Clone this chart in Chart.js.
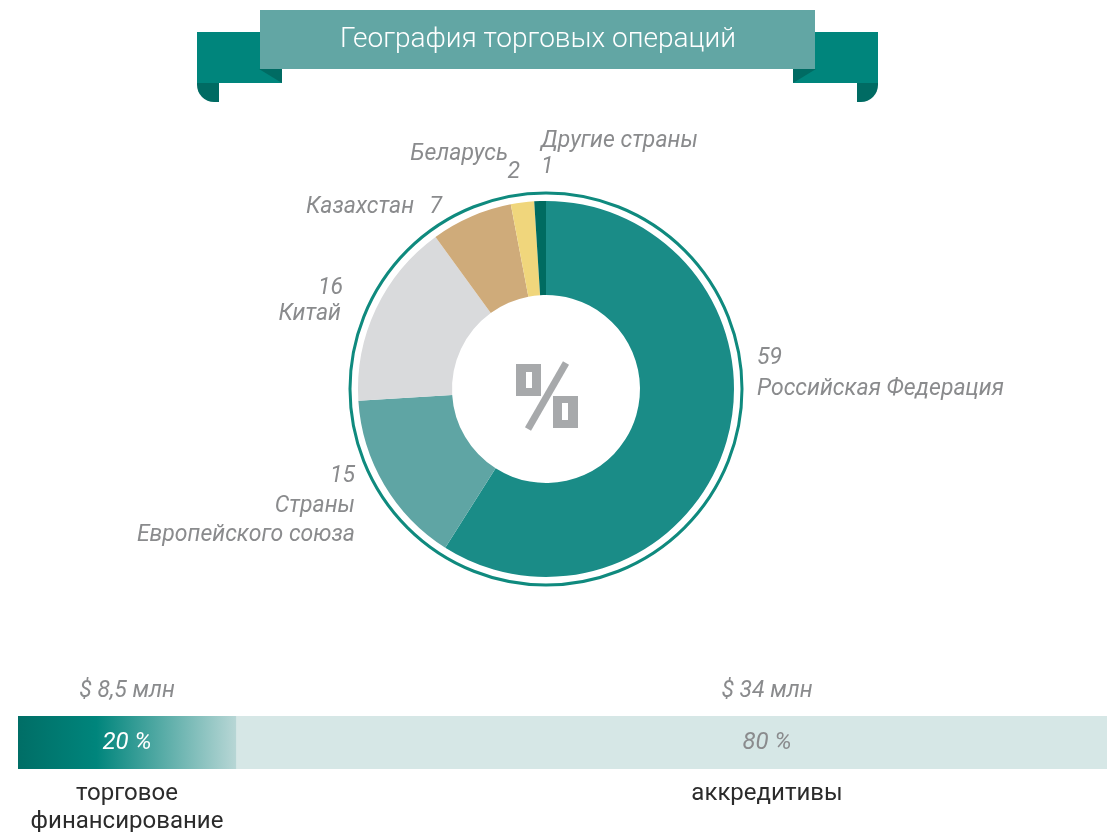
<!DOCTYPE html>
<html lang="ru">
<head>
<meta charset="utf-8">
<title>География торговых операций</title>
<script src="https://cdn.jsdelivr.net/npm/chart.js@4.4.1/dist/chart.umd.min.js"></script>
<style>
  html, body { margin: 0; padding: 0; background: #fff; }
  #wrap { position: relative; width: 1107px; height: 832px; overflow: hidden; }
  #geoBox { position: absolute; left: 0; top: 0; width: 1107px; height: 650px; }
  #finBox { position: absolute; left: 0; top: 650px; width: 1107px; height: 182px; }
</style>
</head>
<body>
<div id="wrap">
  <div id="geoBox"><canvas id="geoChart"></canvas></div>
  <div id="finBox"><canvas id="finChart"></canvas></div>
</div>
<script>
// --- data ---
const title = 'География торговых операций';
const countries = ['Российская Федерация', ['Страны', 'Европейского союза'], 'Китай', 'Казахстан', 'Беларусь', 'Другие страны'];
const shares = [59, 15, 16, 7, 2, 1];
const countryColors = ['#1a8c87', '#5fa5a4', '#d9dadc', '#cfab7a', '#f0d67c', '#006b60'];

const finTypes = [['торговое', 'финансирование'], ['аккредитивы']];
const finShares = [20, 80];
const finAmounts = ['$ 8,5 млн', '$ 34 млн'];

const grayText = '#8a8b8d';
const labelFont = 'italic 400 23px Roboto, "Open Sans", sans-serif';

// where each country label sits, relative to doughnut centre
// parts: 'v' = value, 0/1 = line of name
const labelLayout = [
  [{p: 'v', dx: 211, dy: -31, a: 'left'}, {p: 0, dx: 211, dy: 0, a: 'left'}],
  [{p: 'v', dx: -191, dy: 87, a: 'right'}, {p: 0, dx: -191, dy: 117, a: 'right'}, {p: 1, dx: -191, dy: 146, a: 'right'}],
  [{p: 'v', dx: -203, dy: -101, a: 'right'}, {p: 0, dx: -205, dy: -75, a: 'right'}],
  [{p: 0, dx: -132, dy: -182, a: 'right'}, {p: 'v', dx: -104, dy: -182, a: 'right'}],
  [{p: 0, dx: -38, dy: -235, a: 'right'}, {p: 'v', dx: -26, dy: -217, a: 'right'}],
  [{p: 0, dx: -5, dy: -248, a: 'left'}, {p: 'v', dx: -5, dy: -222, a: 'left'}]
];

function drawBanner(ctx) {
  const side = (flapX, flapW, foldPts, curlX, curlW, leftCurl) => {
    ctx.fillStyle = '#00857c';
    ctx.fillRect(flapX, 32, flapW, 51);
    ctx.fillStyle = '#006b63';
    ctx.beginPath();
    ctx.moveTo(foldPts[0][0], foldPts[0][1]);
    ctx.lineTo(foldPts[1][0], foldPts[1][1]);
    ctx.lineTo(foldPts[2][0], foldPts[2][1]);
    ctx.closePath();
    ctx.fill();
    ctx.beginPath();
    if (leftCurl) ctx.roundRect(curlX, 83, curlW, 19, [0, 0, 0, 17]);
    else ctx.roundRect(curlX, 83, curlW, 19, [0, 0, 17, 0]);
    ctx.fill();
  };
  side(197, 85, [[259, 69], [282, 69], [282, 83]], 197, 22, true);
  side(793, 85, [[793, 69], [816, 69], [793, 83]], 857, 21, false);
  ctx.fillStyle = '#62a6a4';
  ctx.fillRect(260, 10, 555, 59);
  ctx.fillStyle = '#ffffff';
  ctx.font = '300 28px Roboto, "Open Sans", sans-serif';
  ctx.textAlign = 'center';
  ctx.textBaseline = 'middle';
  ctx.fillText(title, 538, 40);
}

function drawPercentIcon(ctx, cx, cy) {
  ctx.fillStyle = '#a7a9ab';
  ctx.fillRect(cx - 30, cy - 25, 25, 32);
  ctx.fillRect(cx + 7, cy + 7, 25, 32);
  ctx.fillStyle = '#ffffff';
  ctx.fillRect(cx - 20, cy - 17, 6, 16);
  ctx.fillRect(cx + 16, cy + 14, 6, 17);
  ctx.strokeStyle = '#a7a9ab';
  ctx.lineWidth = 7;
  ctx.beginPath();
  ctx.moveTo(cx + 20, cy - 26);
  ctx.lineTo(cx - 18, cy + 40);
  ctx.stroke();
}

const geoDecor = {
  id: 'geoDecor',
  beforeDraw(chart) {
    drawBanner(chart.ctx);
  },
  afterDraw(chart) {
    const ctx = chart.ctx;
    const arc = chart.getDatasetMeta(0).data[0];
    const cx = arc.x, cy = arc.y;
    // thin outer ring
    ctx.save();
    ctx.strokeStyle = '#0f8a7e';
    ctx.lineWidth = 3;
    ctx.beginPath();
    ctx.arc(cx, cy, arc.outerRadius + 8, 0, Math.PI * 2);
    ctx.stroke();

    drawPercentIcon(ctx, cx, cy);

    ctx.font = labelFont;
    ctx.fillStyle = grayText;
    ctx.textBaseline = 'middle';
    labelLayout.forEach((parts, i) => {
      const name = [].concat(countries[i]);
      parts.forEach(pt => {
        const txt = pt.p === 'v' ? String(shares[i]) : name[pt.p];
        ctx.textAlign = pt.a;
        ctx.fillText(txt, cx + pt.dx, cy + pt.dy);
      });
    });
    ctx.restore();
  }
};

new Chart(document.getElementById('geoChart'), {
  type: 'doughnut',
  data: {
    labels: countries,
    datasets: [{
      data: shares,
      backgroundColor: countryColors,
      borderWidth: 0
    }]
  },
  options: {
    responsive: true,
    maintainAspectRatio: false,
    animation: false,
    cutout: '50%',
    layout: { padding: { left: 358, right: 373, top: 201, bottom: 73 } },
    plugins: {
      legend: { display: false },
      tooltip: { enabled: false }
    }
  },
  plugins: [geoDecor]
});

// --- bottom bar ---
const finLabelX = [127, 767];

const finDecor = {
  id: 'finDecor',
  afterDraw(chart) {
    const ctx = chart.ctx;
    const area = chart.chartArea;
    ctx.save();
    ctx.textAlign = 'center';
    ctx.textBaseline = 'middle';
    finTypes.forEach((lines, i) => {
      const x = finLabelX[i];
      ctx.font = labelFont;
      ctx.fillStyle = grayText;
      ctx.fillText(finAmounts[i], x, area.top - 25);
      ctx.fillStyle = i === 0 ? '#ffffff' : grayText;
      ctx.font = 'italic 400 24px Roboto, "Open Sans", sans-serif';
      ctx.fillText(finShares[i] + ' %', x, (area.top + area.bottom) / 2);
      ctx.font = '400 24px Roboto, "Open Sans", sans-serif';
      ctx.fillStyle = '#2b2b2b';
      lines.forEach((ln, j) => ctx.fillText(ln, x, area.bottom + 25 + j * 28));
    });
    ctx.restore();
  }
};

function tradeGradient(context) {
  const chart = context.chart;
  const area = chart.chartArea;
  if (!area) return '#00857c';
  const x0 = area.left;
  const x1 = chart.scales.x.getPixelForValue(finShares[0]);
  const g = chart.ctx.createLinearGradient(x0, 0, x1, 0);
  g.addColorStop(0, '#006e66');
  g.addColorStop(0.36, '#00857c');
  g.addColorStop(1, '#b7d6d5');
  return g;
}

new Chart(document.getElementById('finChart'), {
  type: 'bar',
  data: {
    labels: [''],
    datasets: [
      { label: finTypes[0].join(' '), data: [finShares[0]], backgroundColor: tradeGradient, borderWidth: 0 },
      { label: finTypes[1].join(' '), data: [finShares[1]], backgroundColor: '#d6e7e6', borderWidth: 0 }
    ]
  },
  options: {
    indexAxis: 'y',
    responsive: true,
    maintainAspectRatio: false,
    animation: false,
    layout: { padding: { left: 18, right: 0, top: 66, bottom: 63 } },
    datasets: { bar: { barPercentage: 1, categoryPercentage: 1 } },
    scales: {
      x: { stacked: true, min: 0, max: 100, display: false },
      y: { stacked: true, display: false }
    },
    plugins: {
      legend: { display: false },
      tooltip: { enabled: false }
    }
  },
  plugins: [finDecor]
});
</script>
</body>
</html>
